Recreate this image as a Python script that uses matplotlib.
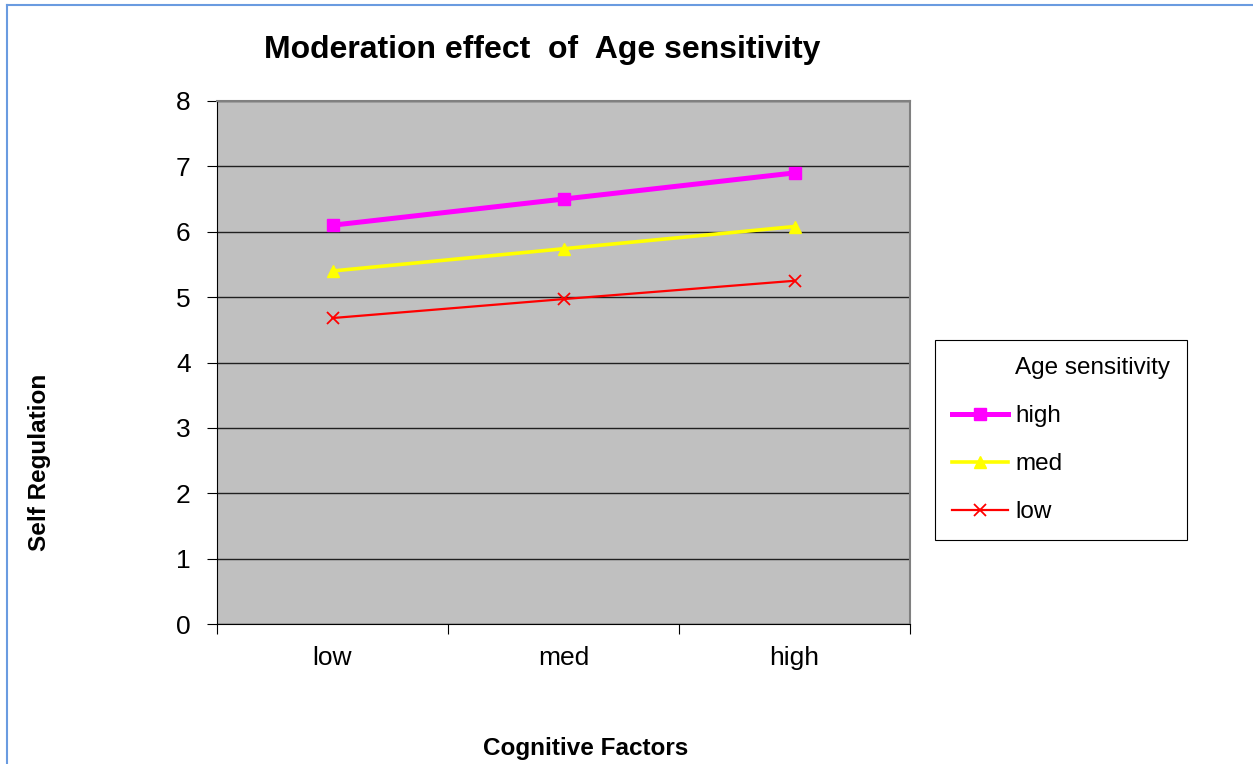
import matplotlib
matplotlib.use("Agg")
import matplotlib.pyplot as plt
from matplotlib.lines import Line2D

plt.rcParams['font.family'] = ['Liberation Sans', 'DejaVu Sans']

# cognitive factor levels on x, one line per age sensitivity group
categories = ["low", "med", "high"]
high_values = [6.10, 6.50, 6.90]
med_values = [5.40, 5.74, 6.08]
low_values = [4.68, 4.97, 5.25]
y_ticks = [0, 1, 2, 3, 4, 5, 6, 7, 8]

fig = plt.figure(figsize=(12.53, 7.64), dpi=100)
ax = fig.add_axes([217 / 1253, 1 - 624 / 764, 693 / 1253, 523 / 764])
ax.set_facecolor('#C0C0C0')

x = list(range(len(categories)))
h1, = ax.plot(x, high_values, color='#FF00FF', linewidth=3.6, marker='s',
              markersize=9, label='high')
h2, = ax.plot(x, med_values, color='#FFFF00', linewidth=2.6, marker='^',
              markersize=9, label='med')
h3, = ax.plot(x, low_values, color='#FF0000', linewidth=1.6, marker='x',
              markersize=9, markeredgewidth=1.3, label='low')

ax.set_xlim(-0.5, 2.5)
ax.set_ylim(0, 8)
ax.set_yticks(y_ticks)
ax.set_yticklabels([str(v) for v in y_ticks], fontsize=19)
ax.yaxis.grid(True, color='#202020', linewidth=1.0)
ax.set_axisbelow(True)

# ticks sit between the categories, labels at the centres
ax.set_xticks([-0.5, 0.5, 1.5, 2.5])
ax.set_xticklabels([])
ax.set_xticks(x, minor=True)
ax.set_xticklabels(categories, minor=True, fontsize=19)
ax.tick_params(axis='x', which='minor', length=0, pad=16)
ax.tick_params(axis='x', which='major', length=7, direction='out', color='black')
ax.tick_params(axis='y', length=7, direction='out', pad=12)

ax.spines['left'].set_color('black')
ax.spines['bottom'].set_color('black')
ax.spines['top'].set_color('#808080')
ax.spines['right'].set_color('#808080')
ax.spines['top'].set_linewidth(1.5)
ax.spines['right'].set_linewidth(1.5)

fig.text(542 / 1253, 1 - 50 / 764, "Moderation effect  of  Age sensitivity",
         ha='center', va='center', fontsize=23, fontweight='bold')
fig.text(40 / 1253, 1 - 462 / 764, "Self Regulation", rotation=90,
         ha='center', va='center', fontsize=17.5, fontweight='bold')
fig.text(586 / 1253, 1 - 748 / 764, "Cognitive Factors",
         ha='center', va='center', fontsize=17.5, fontweight='bold')

header = Line2D([], [], linestyle='none', label='Age sensitivity')
leg = fig.legend(handles=[header, h1, h2, h3], loc='upper left',
                 bbox_to_anchor=(935 / 1253, 1 - 340 / 764), fontsize=17.5,
                 frameon=True, fancybox=False, shadow=False, framealpha=1,
                 edgecolor='black', labelspacing=1.07, handlelength=2.3,
                 handletextpad=0.3, borderpad=0.7, borderaxespad=0)
leg.get_frame().set_linewidth(0.8)

# blue frame along the top and left edge
fig.add_artist(Line2D([7 / 1253, 7 / 1253], [0, 1 - 5 / 764],
                      transform=fig.transFigure, color='#6A9BE0', linewidth=1.5))
fig.add_artist(Line2D([7 / 1253, 1], [1 - 5 / 764, 1 - 5 / 764],
                      transform=fig.transFigure, color='#6A9BE0', linewidth=1.5))

fig.savefig("out.png", dpi=100)
